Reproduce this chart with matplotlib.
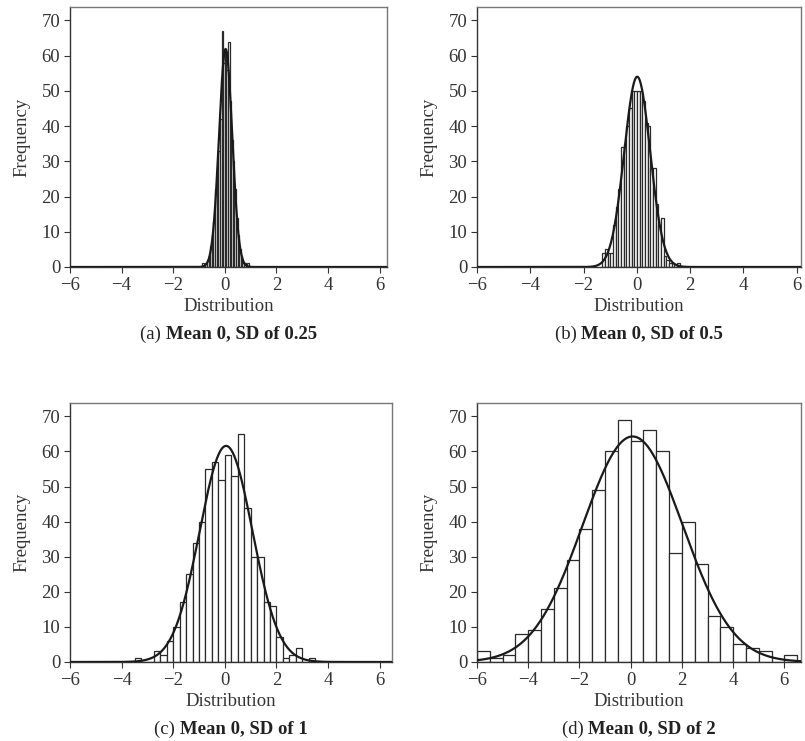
import numpy as np
import matplotlib
matplotlib.use("Agg")
import matplotlib.pyplot as plt

plt.rcParams["font.family"] = ["Liberation Serif", "DejaVu Serif"]
plt.rcParams["font.size"] = 13.5

# histogram counts per panel (first bin edge, bin width, counts)
start_a, width_a = -0.875, 0.0625
counts_a = [1, 0, 1, 2, 3, 6, 9, 13, 22, 26, 33, 42, 67, 58, 61, 56, 64,
            47, 36, 30, 22, 14, 9, 5, 3, 1, 1, 0, 1]

start_b, width_b = -1.3, 0.1
counts_b = [4, 5, 4, 4, 12, 17, 22, 34, 35, 40, 45, 50, 50, 50, 50, 47,
            41, 40, 28, 28, 18, 12, 14, 3, 2, 1, 1, 0, 1]

start_c, width_c = -3.5, 0.25
counts_c = [1, 0, 0, 3, 2, 6, 10, 17, 25, 34, 40, 55, 57, 52, 59, 53, 65,
            44, 30, 30, 17, 16, 7, 1, 2, 4, 0, 1]

start_d, width_d = -6.0, 0.5
counts_d = [3, 1, 2, 8, 9, 15, 21, 29, 38, 49, 60, 69, 63, 66, 60, 31, 40,
            28, 13, 10, 5, 4, 3, 0, 2]

letters = ["(a) ", "(b) ", "(c) ", "(d) "]
titles = ["Mean 0, SD of 0.25", "Mean 0, SD of 0.5", "Mean 0, SD of 1", "Mean 0, SD of 2"]
x_ticks = [-6, -4, -2, 0, 2, 4, 6]
y_ticks = [0, 10, 20, 30, 40, 50, 60, 70]

W, H = 805, 741
fig = plt.figure(figsize=(W / 100, H / 100), dpi=100)


def add_ax(left, right, top, bottom):
    return fig.add_axes([left / W, 1 - bottom / H, (right - left) / W, (bottom - top) / H])


panels = [
    (add_ax(70, 387, 7, 267), start_a, width_a, counts_a, 6.29),
    (add_ax(477, 801, 7, 267), start_b, width_b, counts_b, 6.16),
    (add_ax(70, 392, 403, 662), start_c, width_c, counts_c, 6.48),
    (add_ax(477, 801, 403, 662), start_d, width_d, counts_d, 6.65),
]

ink = "#2a2a2a"

for ax, start, width, counts, xmax in panels:
    counts = np.array(counts, dtype=float)
    edges = start + width * np.arange(len(counts) + 1)
    ax.bar(edges[:-1], counts, width=width, align="edge", color="white",
           edgecolor=ink, linewidth=0.9)

    # normal curve fitted to the binned data
    centers = (edges[:-1] + edges[1:]) / 2
    n = counts.sum()
    mu = (counts * centers).sum() / n
    sd = np.sqrt((counts * (centers - mu) ** 2).sum() / n)
    xs = np.linspace(-6, xmax, 600)
    ys = n * width * np.exp(-0.5 * ((xs - mu) / sd) ** 2) / (sd * np.sqrt(2 * np.pi))
    ax.plot(xs, ys, color="#1a1a1a", linewidth=1.6, zorder=3)

    ax.set_xlim(-6, xmax)
    ax.set_ylim(0, 73.8)
    ax.set_xticks(x_ticks)
    ax.set_yticks(y_ticks)
    ax.tick_params(direction="out", length=4, width=0.8, color="#333333",
                   labelcolor="#333333", pad=3)
    for side in ["left", "bottom"]:
        ax.spines[side].set_color("#333333")
        ax.spines[side].set_linewidth(1.0)
    for side in ["top", "right"]:
        ax.spines[side].set_color("#777777")
        ax.spines[side].set_linewidth(1.0)
    ax.set_xlabel("Distribution", color="#333333", labelpad=3)
    ax.set_ylabel("Frequency", color="#333333", labelpad=8)

# captions: plain letter followed by bold description, centred under each axes
fig.canvas.draw()
renderer = fig.canvas.get_renderer()
for (ax, *_), letter, title in zip(panels, letters, titles):
    bb = ax.get_position()
    cx = (bb.x0 + bb.x1) / 2
    base_y = bb.y0 - 67 / H
    t1 = fig.text(0, base_y, letter, ha="left", va="center", color="#222222")
    t2 = fig.text(0, base_y, title, ha="left", va="center", color="#222222",
                  fontweight="bold")
    w1 = t1.get_window_extent(renderer).width / W
    w2 = t2.get_window_extent(renderer).width / W
    x0 = cx - (w1 + w2) / 2
    t1.set_x(x0)
    t2.set_x(x0 + w1)

fig.savefig("out.png", dpi=100)
